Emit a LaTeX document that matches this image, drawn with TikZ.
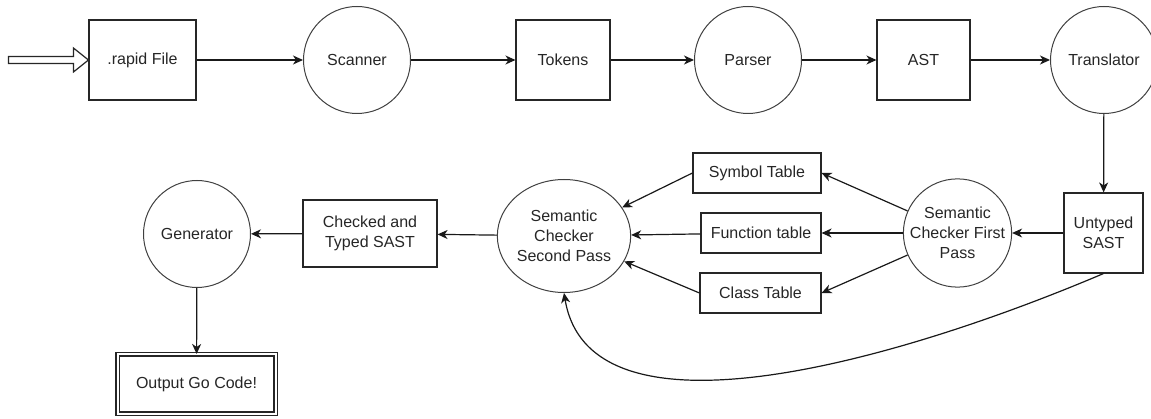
\documentclass[tikz,border=0pt]{standalone}
\usepackage{fontspec}
\setmainfont{Liberation Sans}
\usetikzlibrary{shapes.geometric,arrows.meta,calc}
\begin{document}
\begin{tikzpicture}[x=1pt,y=-1pt,
  every node/.style={font=\fontsize{16}{20}\selectfont, text=black!85, align=center, inner sep=0pt},
  box/.style={draw=black!85, line width=1.1pt, rectangle},
  proc/.style={draw=black!75, line width=1pt, circle, minimum size=107pt},
  arr/.style={-{Stealth[length=10pt,width=9pt,inset=3pt]}, line width=1.2pt, draw=black!90}]
\useasboundingbox (0,0) rectangle (1151,419);
% top row
\node[box, minimum width=107pt, minimum height=80pt] (rapid) at (142.5,60) {.rapid File};
\node[proc] (scanner) at (357,60) {Scanner};
\node[box, minimum width=94pt, minimum height=80pt] (tokens) at (563,60) {Tokens};
\node[proc] (parser) at (748,60) {Parser};
\node[box, minimum width=93pt, minimum height=80pt] (ast) at (923.5,60) {AST};
\node[proc] (translator) at (1104,60) {Translator};
% middle row
\node[box, minimum width=79pt, minimum height=80pt] (untyped) at (1103.5,233) {Untyped\\SAST};
\node[proc] (first) at (957.5,233) {Semantic\\Checker First\\Pass};
\node[box, minimum width=128pt, minimum height=40pt] (symtab) at (757,173) {Symbol Table};
\node[box, minimum width=120pt, minimum height=40pt] (funtab) at (761,233) {Function table};
\node[box, minimum width=121pt, minimum height=40pt] (classtab) at (760.5,293) {Class Table};
\node[draw=black!75, line width=1pt, ellipse, minimum width=122pt, minimum height=113pt] (second) at (564,236) {Semantic\\Checker\\Second Pass};
\node[box, minimum width=134pt, minimum height=67pt] (checked) at (370,233.5) {Checked and\\Typed SAST};
\node[proc] (generator) at (197,234) {Generator};
\node[box, double, double distance=2pt, minimum width=158pt, minimum height=59pt] (output) at (196.5,384) {Output Go Code!};
% input hollow arrow
\draw[line width=1.2pt, draw=black!85, fill=white]
  ($(rapid.west)+(-80,-3.5)$) -- ($(rapid.west)+(-15,-3.5)$) -- ($(rapid.west)+(-15,-12)$)
  -- (rapid.west) -- ($(rapid.west)+(-15,12)$) -- ($(rapid.west)+(-15,3.5)$)
  -- ($(rapid.west)+(-80,3.5)$) -- cycle;
% connectors
\draw[arr] (rapid) -- (scanner);
\draw[arr] (scanner) -- (tokens);
\draw[arr] (tokens) -- (parser);
\draw[arr] (parser) -- (ast);
\draw[arr] (ast) -- (translator);
\draw[arr] (translator) -- (untyped);
\draw[arr] (untyped) -- (first);
\draw[arr] (first) -- (symtab.east);
\draw[arr] (first) -- (funtab);
\draw[arr] (first) -- (classtab.east);
\draw[arr] (symtab.west) -- (second);
\draw[arr] (funtab) -- (second);
\draw[arr] (classtab.west) -- (second);
\draw[arr] (second) -- (checked);
\draw[arr] (checked) -- (generator);
\draw[arr] (generator) -- (output);
\draw[arr] (untyped.south) .. controls (900,360) and (590,450) .. (second.south);
\end{tikzpicture}
\end{document}
